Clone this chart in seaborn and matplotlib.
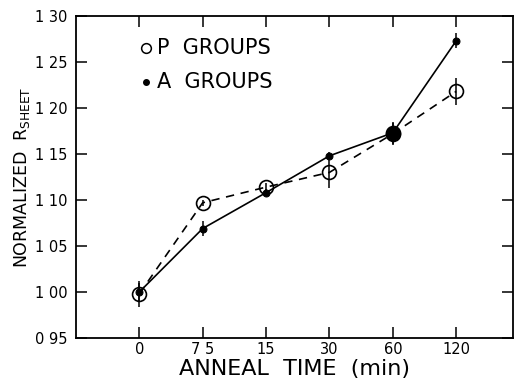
import numpy as np
import pandas as pd
import matplotlib
matplotlib.use("Agg")
import matplotlib.pyplot as plt
import seaborn as sns

# anneal times (categorical, evenly spaced on the plot)
times = ["0", "7 5", "15", "30", "60", "120"]
p_vals = [0.998, 1.097, 1.114, 1.130, 1.172, 1.218]
p_err = [0.014, 0.003, 0.005, 0.017, 0.012, 0.015]
a_vals = [1.000, 1.069, 1.108, 1.148, 1.173, 1.273]
a_err = [0.010, 0.008, 0.004, 0.004, 0.012, 0.008]
y_ticks = [0.95, 1.00, 1.05, 1.10, 1.15, 1.20, 1.25, 1.30]
y_labels = ["0 95", "1 00", "1 05", "1 10", "1 15", "1 20", "1 25", "1 30"]

sns.set_style("ticks")
plt.rcParams["font.family"] = ["DejaVu Sans"]
plt.rcParams["text.color"] = "black"
plt.rcParams["axes.labelcolor"] = "black"
plt.rcParams["xtick.color"] = "black"
plt.rcParams["ytick.color"] = "black"

df = pd.DataFrame({
    "pos": np.arange(len(times)),
    "P": p_vals,
    "A": a_vals,
})

fig = plt.figure(figsize=(5.2, 3.89), dpi=100)
ax = fig.add_axes([0.146, 0.131, 0.841, 0.828])

# error bars
ax.errorbar(df["pos"], df["P"], yerr=p_err, fmt="none", ecolor="black", elinewidth=1.1, capsize=0)
ax.errorbar(df["pos"], df["A"], yerr=a_err, fmt="none", ecolor="black", elinewidth=1.1, capsize=0)

sns.lineplot(data=df, x="pos", y="P", ax=ax, color="black", linewidth=1.2,
             linestyle=(0, (5, 4)), marker="o", markersize=10, markerfacecolor="none",
             markeredgecolor="black", markeredgewidth=1.2)
sns.lineplot(data=df, x="pos", y="A", ax=ax, color="black", linewidth=1.2,
             marker="o", markersize=5, markerfacecolor="black", markeredgecolor="black")
# the 60 min A point is drawn bigger in the original
big = df.iloc[[4]]
sns.scatterplot(data=big, x="pos", y="A", ax=ax, color="black", s=110, edgecolor="black", zorder=5)

ax.set_xlim(-1.0, 5.9)
ax.set_ylim(0.95, 1.30)
ax.set_xticks(df["pos"])
ax.set_xticklabels(times, fontsize=10.5)
ax.set_yticks(y_ticks)
ax.set_yticklabels(y_labels, fontsize=10.5)
ax.tick_params(direction="in", length=8, width=1.1, top=True, right=True, pad=3)
ax.tick_params(axis="y", pad=6)
for s in ax.spines.values():
    s.set_linewidth(1.3)
    s.set_color("black")

ax.set_xlabel("ANNEAL  TIME  (min)", fontsize=16, labelpad=1)
ax.set_ylabel(r"NORMALIZED  R$_{\mathregular{SHEET}}$", fontsize=12.5, labelpad=2)

# legend drawn as marker + text
ax.plot([0.11], [1.265], marker="o", markersize=7, markerfacecolor="none",
        markeredgecolor="black", markeredgewidth=1.1, linestyle="none")
ax.text(0.28, 1.265, "P  GROUPS", fontsize=15, va="center", ha="left")
ax.plot([0.11], [1.228], marker="o", markersize=4, color="black", linestyle="none")
ax.text(0.28, 1.228, "A  GROUPS", fontsize=15, va="center", ha="left")

fig.savefig("out.png", dpi=100)
